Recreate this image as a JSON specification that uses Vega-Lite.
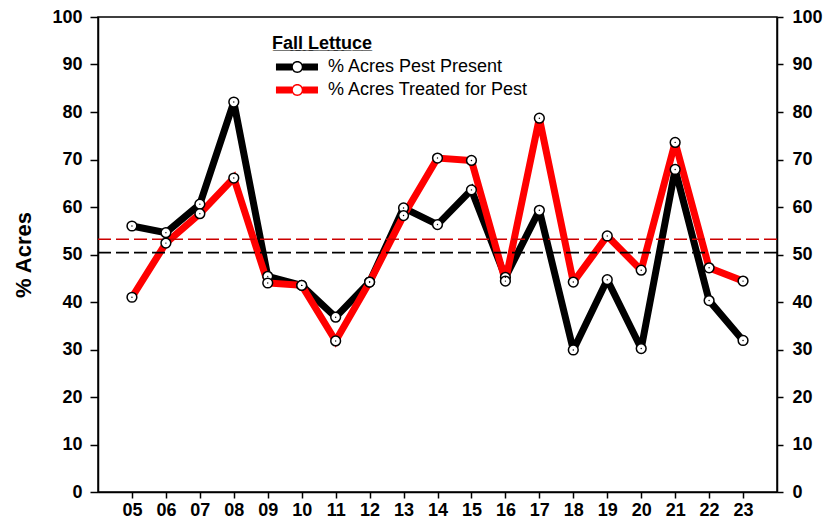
{
  "$schema": "https://vega.github.io/schema/vega-lite/v6.json",
  "width": 679,
  "height": 475,
  "autosize": {"type": "none"},
  "padding": {"left": 98, "top": 17, "right": 51, "bottom": 32},
  "background": "white",
  "config": {
    "font": "Liberation Sans",
    "view": {"stroke": "black", "strokeWidth": 1.5},
    "axis": {
      "grid": false,
      "domainColor": "black",
      "domainWidth": 1.5,
      "tickColor": "black",
      "tickWidth": 1.5,
      "labelFont": "Liberation Sans",
      "labelFontWeight": "bold",
      "labelFontSize": 18,
      "labelColor": "black",
      "titleFont": "Liberation Sans",
      "titleColor": "black"
    }
  },
  "datasets": {
    "series": [
      {"yr": "05", "series": "% Acres Pest Present", "value": 56.0},
      {"yr": "06", "series": "% Acres Pest Present", "value": 54.6},
      {"yr": "07", "series": "% Acres Pest Present", "value": 60.6},
      {"yr": "08", "series": "% Acres Pest Present", "value": 82.1},
      {"yr": "09", "series": "% Acres Pest Present", "value": 45.4},
      {"yr": "10", "series": "% Acres Pest Present", "value": 43.5},
      {"yr": "11", "series": "% Acres Pest Present", "value": 36.8},
      {"yr": "12", "series": "% Acres Pest Present", "value": 44.2},
      {"yr": "13", "series": "% Acres Pest Present", "value": 59.8},
      {"yr": "14", "series": "% Acres Pest Present", "value": 56.3},
      {"yr": "15", "series": "% Acres Pest Present", "value": 63.6},
      {"yr": "16", "series": "% Acres Pest Present", "value": 45.2},
      {"yr": "17", "series": "% Acres Pest Present", "value": 59.3},
      {"yr": "18", "series": "% Acres Pest Present", "value": 29.9},
      {"yr": "19", "series": "% Acres Pest Present", "value": 44.7},
      {"yr": "20", "series": "% Acres Pest Present", "value": 30.2},
      {"yr": "21", "series": "% Acres Pest Present", "value": 67.9},
      {"yr": "22", "series": "% Acres Pest Present", "value": 40.3},
      {"yr": "23", "series": "% Acres Pest Present", "value": 31.9},
      {"yr": "05", "series": "% Acres Treated for Pest", "value": 41.0},
      {"yr": "06", "series": "% Acres Treated for Pest", "value": 52.4},
      {"yr": "07", "series": "% Acres Treated for Pest", "value": 58.6},
      {"yr": "08", "series": "% Acres Treated for Pest", "value": 66.1},
      {"yr": "09", "series": "% Acres Treated for Pest", "value": 44.0},
      {"yr": "10", "series": "% Acres Treated for Pest", "value": 43.5},
      {"yr": "11", "series": "% Acres Treated for Pest", "value": 31.8},
      {"yr": "12", "series": "% Acres Treated for Pest", "value": 44.2},
      {"yr": "13", "series": "% Acres Treated for Pest", "value": 58.2},
      {"yr": "14", "series": "% Acres Treated for Pest", "value": 70.3},
      {"yr": "15", "series": "% Acres Treated for Pest", "value": 69.8},
      {"yr": "16", "series": "% Acres Treated for Pest", "value": 44.4},
      {"yr": "17", "series": "% Acres Treated for Pest", "value": 78.7},
      {"yr": "18", "series": "% Acres Treated for Pest", "value": 44.2},
      {"yr": "19", "series": "% Acres Treated for Pest", "value": 53.9},
      {"yr": "20", "series": "% Acres Treated for Pest", "value": 46.7},
      {"yr": "21", "series": "% Acres Treated for Pest", "value": 73.6},
      {"yr": "22", "series": "% Acres Treated for Pest", "value": 47.2},
      {"yr": "23", "series": "% Acres Treated for Pest", "value": 44.4}
    ],
    "means": [
      {"series": "% Acres Pest Present", "mean": 50.4},
      {"series": "% Acres Treated for Pest", "mean": 53.2}
    ]
  },
  "layer": [
    {
      "data": {"name": "series"},
      "mark": {"type": "line", "strokeWidth": 7, "strokeJoin": "miter", "strokeMiterLimit": 2, "strokeCap": "butt"},
      "encoding": {
        "x": {
          "field": "yr", "type": "ordinal",
          "scale": {"type": "point", "padding": 1},
          "axis": {"title": null, "labelAngle": 0, "tickSize": 6, "labelPadding": 3}
        },
        "y": {
          "field": "value", "type": "quantitative",
          "scale": {"domain": [0, 100], "nice": false},
          "axis": {"title": "% Acres", "titleFontSize": 22, "titleFontWeight": "bold", "titlePadding": 16, "values": [0,10,20,30,40,50,60,70,80,90,100], "tickSize": 8, "labelPadding": 8}
        },
        "color": {
          "field": "series", "type": "nominal",
          "scale": {"domain": ["% Acres Pest Present", "% Acres Treated for Pest"], "range": ["#000000", "#ff0000"]},
          "legend": {
            "title": "F\u0332a\u0332l\u0332l\u0332 \u0332L\u0332e\u0332t\u0332t\u0332u\u0332c\u0332e\u0332",
            "orient": "none",
            "legendX": 174,
            "legendY": 18,
            "padding": 0,
            "titleFont": "Liberation Sans",
            "titleFontSize": 18,
            "titleFontWeight": "bold",
            "titleColor": "black",
            "titlePadding": 3,
            "labelFont": "Liberation Sans",
            "labelFontSize": 18,
            "labelColor": "black",
            "labelLimit": 400,
            "labelOffset": 34,
            "rowPadding": 3,
            "symbolSize": 484,
            "symbolType": "M-0.64,-0.318H0.82V0.318H-0.64Z M1.78,-0.318H3.18V0.318H1.78Z M1.845,0A0.545,0.545,0,1,1,0.755,0A0.545,0.545,0,1,1,1.845,0Z M1.71,0A0.41,0.41,0,1,0,0.89,0A0.41,0.41,0,1,0,1.71,0Z",
            "symbolStrokeWidth": 0,
            "encode": {
              "symbols": {
                "update": {
                  "fill": {"scale": "color", "field": "value"},
                  "fillOpacity": {"value": 1},
                  "stroke": {"value": "transparent"},
                  "strokeWidth": {"value": 0}
                }
              }
            }
          }
        },
        "order": {"field": "yr"}
      }
    },
    {
      "data": {"name": "means"},
      "mark": {"type": "rule", "strokeWidth": 1.6, "strokeDash": [13, 5]},
      "encoding": {
        "y": {
          "field": "mean", "type": "quantitative",
          "scale": {"domain": [0, 100], "nice": false},
          "axis": {"orient": "right", "title": null, "values": [0,10,20,30,40,50,60,70,80,90,100], "tickSize": 6, "labelPadding": 9}
        },
        "stroke": {
          "field": "series", "type": "nominal",
          "scale": {"domain": ["% Acres Pest Present", "% Acres Treated for Pest"], "range": ["#000000", "#cc0000"]},
          "legend": null
        }
      }
    },
    {
      "data": {"name": "series"},
      "mark": {"type": "point", "filled": true, "fill": "white", "stroke": "black", "strokeWidth": 1.5, "size": 95, "opacity": 1},
      "encoding": {
        "x": {"field": "yr", "type": "ordinal", "scale": {"type": "point", "padding": 1}},
        "y": {"field": "value", "type": "quantitative", "scale": {"domain": [0, 100], "nice": false}, "axis": null}
      }
    },
    {
      "data": {"name": "series"},
      "mark": {"type": "point", "filled": true, "color": "black", "size": 2, "opacity": 1},
      "encoding": {
        "x": {"field": "yr", "type": "ordinal", "scale": {"type": "point", "padding": 1}},
        "y": {"field": "value", "type": "quantitative", "scale": {"domain": [0, 100], "nice": false}, "axis": null}
      }
    }
  ],
  "resolve": {"scale": {"y": "independent"}, "axis": {"y": "independent"}}
}
